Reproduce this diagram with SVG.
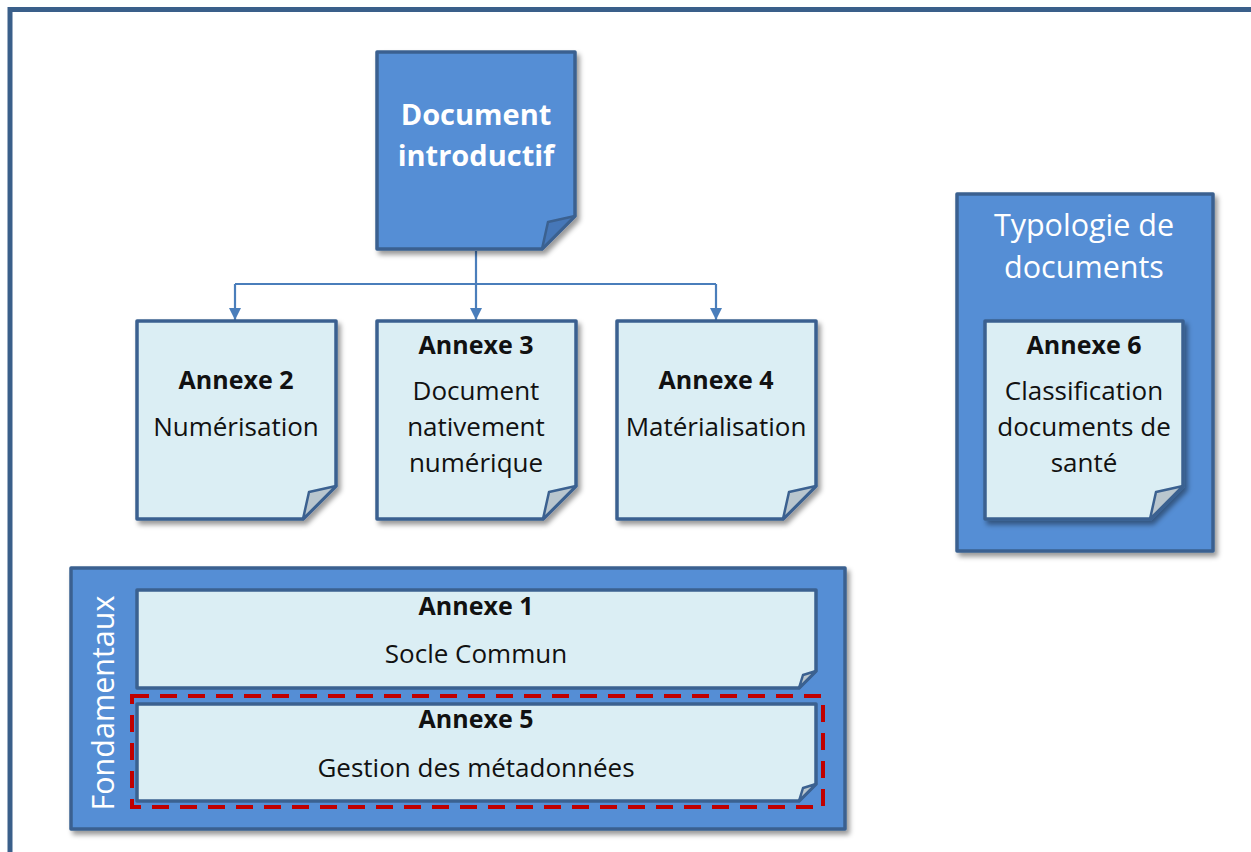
<svg xmlns="http://www.w3.org/2000/svg" width="1251" height="852" viewBox="0 0 1251 852">
<defs>
<filter id="sh" x="-10%" y="-10%" width="130%" height="130%">
<feDropShadow dx="3" dy="4" stdDeviation="2.5" flood-color="#000" flood-opacity="0.4"/>
</filter>
<marker id="arr" markerWidth="12" markerHeight="12" refX="12" refY="6" orient="auto" markerUnits="userSpaceOnUse" viewBox="0 0 12 12">
<path d="M0,0 L12,6 L0,12 Z" fill="#4A7EBB"/>
</marker>
</defs>
<style>
.dark{fill:#558ED5;stroke:#3B6190;stroke-width:3.5;stroke-linejoin:round}
.light{fill:#DBEEF4;stroke:#3B6190;stroke-width:3.5;stroke-linejoin:round}
.fold{fill:#B9C6CE;stroke:#3B6190;stroke-width:2.5;stroke-linejoin:round}
.folddk{fill:#4677B8;stroke:#3B6190;stroke-width:2.5;stroke-linejoin:round}
.conn{fill:none;stroke:#4A7EBB;stroke-width:2.2}
text{font-family:"Open Sans","Noto Sans","Liberation Sans",sans-serif;text-anchor:middle}
.t{font-size:26px;fill:#111}
.b{font-size:25px;font-weight:bold;fill:#111}
.w{font-size:30.5px;fill:#fff}
.wb{font-size:29px;font-weight:bold;fill:#fff}
</style>
<rect width="1251" height="852" fill="#fff"/>
<path d="M10,852 V9.5 H1251" fill="none" stroke="#3A5F8A" stroke-width="5"/>

<g id="connectors">
<path class="conn" d="M476,251 V284"/>
<path class="conn" d="M235,284 H716"/>
<path class="conn" d="M235,284 V320" marker-end="url(#arr)"/>
<path class="conn" d="M476,284 V320" marker-end="url(#arr)"/>
<path class="conn" d="M716,284 V320" marker-end="url(#arr)"/>
</g>

<g id="doc-intro">
<path class="dark" filter="url(#sh)" d="M377,52 H575 V216 L542,249 H377 Z"/>
<path class="folddk" d="M542,249 L548,222 L575,216 Z"/>
<text class="wb" x="476" y="125">Document</text>
<text class="wb" x="476" y="166">introductif</text>
</g>

<g id="annexe2">
<path class="light" filter="url(#sh)" d="M137,321 H336 V486 L303,519 H137 Z"/>
<path class="fold" d="M303,519 L309,492 L336,486 Z"/>
<text class="b" x="236" y="389">Annexe 2</text>
<text class="t" x="236" y="436">Numérisation</text>
</g>

<g id="annexe3">
<path class="light" filter="url(#sh)" d="M377,321 H576 V486 L543,519 H377 Z"/>
<path class="fold" d="M543,519 L549,492 L576,486 Z"/>
<text class="b" x="476" y="354">Annexe 3</text>
<text class="t" x="476" y="400">Document</text>
<text class="t" x="476" y="436">nativement</text>
<text class="t" x="476" y="472">numérique</text>
</g>

<g id="annexe4">
<path class="light" filter="url(#sh)" d="M617,321 H816 V486 L783,519 H617 Z"/>
<path class="fold" d="M783,519 L789,492 L816,486 Z"/>
<text class="b" x="716" y="389">Annexe 4</text>
<text class="t" x="716" y="436">Matérialisation</text>
</g>

<g id="typologie">
<rect class="dark" filter="url(#sh)" x="957" y="194" width="256" height="357"/>
<text class="w" x="1084" y="236">Typologie de</text>
<text class="w" x="1084" y="278">documents</text>
</g>

<g id="annexe6">
<path class="light" filter="url(#sh)" d="M985,321 H1183 V486 L1150,519 H985 Z"/>
<path class="fold" d="M1150,519 L1156,492 L1183,486 Z"/>
<text class="b" x="1084" y="354">Annexe 6</text>
<text class="t" x="1084" y="400">Classification</text>
<text class="t" x="1084" y="436">documents de</text>
<text class="t" x="1084" y="472">santé</text>
</g>

<g id="fondamentaux">
<rect class="dark" filter="url(#sh)" x="71" y="568" width="774" height="261"/>
<text class="w" transform="translate(114,703) rotate(-90)" x="0" y="0">Fondamentaux</text>
</g>

<g id="annexe1">
<path class="light" d="M137,590 H816 V671 L799,688 H137 Z"/>
<path class="fold" d="M799,688 L803,675 L816,671 Z"/>
<text class="b" x="476" y="615">Annexe 1</text>
<text class="t" x="476" y="663">Socle Commun</text>
</g>

<g id="annexe5">
<path class="light" d="M137,704 H816 V784 L799,801 H137 Z"/>
<path class="fold" d="M799,801 L803,788 L816,784 Z"/>
<text class="b" x="476" y="728">Annexe 5</text>
<text class="t" x="476" y="777">Gestion des métadonnées</text>
</g>

<g id="highlight">
<rect x="132" y="696" width="691" height="111" fill="none" stroke="#C00000" stroke-width="4" stroke-dasharray="17,11"/>
</g>
</svg>
